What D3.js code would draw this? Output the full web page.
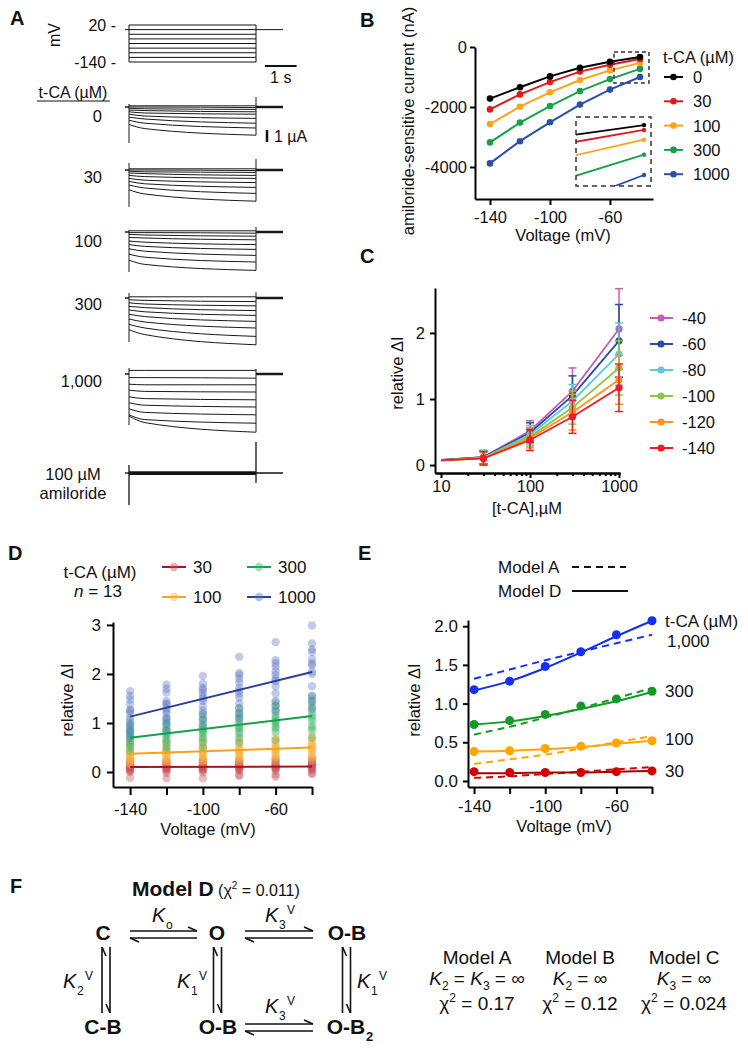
<!DOCTYPE html>
<html><head><meta charset="utf-8">
<script src="https://cdn.jsdelivr.net/npm/d3@7"></script>
<style>
body{margin:0;background:#fff;}
svg{font-family:"Liberation Sans",Arial,Helvetica,sans-serif;}
</style></head><body>
<svg id="fig" width="748" height="1050"></svg>
<script>
// ================= DATA =================
// Panel A: voltage protocol (mV) and current traces (µA, start / 0.5 s / end of 4 s step)
const stepVoltages = [20, 0, -20, -40, -60, -80, -100, -120, -140];
const holdingVoltage = 0;
const traceTimes = [0, 0.5, 4];
const aConcLabels = ["0", "30", "100", "300", "1,000"];
const tr0Start = [0.1, 0, -0.1, -0.25, -0.4, -0.6, -0.85, -1.1, -1.45];
const tr0Early = [0.1, 0, -0.15, -0.3, -0.5, -0.75, -1.0, -1.35, -1.8];
const tr0End = [0.1, -0.05, -0.2, -0.4, -0.6, -0.95, -1.35, -1.75, -2.35];
const tr30Start = [0.1, 0, -0.1, -0.25, -0.45, -0.7, -0.95, -1.25, -1.65];
const tr30Early = [0.1, 0, -0.15, -0.3, -0.55, -0.85, -1.15, -1.5, -2.0];
const tr30End = [0.1, -0.05, -0.2, -0.45, -0.7, -1.05, -1.45, -1.95, -2.6];
const tr100Start = [0.1, -0.05, -0.2, -0.45, -0.75, -1.05, -1.4, -1.85, -2.35];
const tr100Early = [0.1, -0.05, -0.25, -0.5, -0.85, -1.2, -1.6, -2.1, -2.7];
const tr100End = [0.1, -0.1, -0.35, -0.65, -1.05, -1.45, -1.95, -2.5, -3.2];
const tr300Start = [0.1, -0.15, -0.4, -0.7, -1.0, -1.35, -1.75, -2.2, -2.65];
const tr300Early = [0.1, -0.2, -0.5, -0.8, -1.15, -1.55, -2.0, -2.5, -3.05];
const tr300End = [0.1, -0.3, -0.65, -1.05, -1.45, -1.95, -2.5, -3.2, -3.9];
const tr1000Start = [0.3, -0.3, -0.85, -1.35, -1.9, -2.4, -2.9, -3.4, -3.5];
const tr1000Early = [0.3, -0.3, -0.9, -1.45, -2.05, -2.6, -3.2, -3.8, -4.05];
const tr1000End = [0.3, -0.35, -0.9, -1.5, -2.15, -2.75, -3.4, -4.1, -4.85];
const spikeOnset = [[0.25, -3.0], [0.58, -3.08], [0.17, -3.33], [0.42, -3.67], [0.5, -4.25]];
const spikeOffset = [[0.83, -2.35], [0.92, -2.6], [0.42, -3.2], [0.5, -3.9], [0.42, -4.85]];
const amilLevels = [0.06, 0.04, 0.02, 0, -0.02, -0.04, -0.06, -0.08, -0.1];
const amilSpikeOnset = [0.67, -2.67];
const amilSpikeOffset = [2.58, -0.83];

// Panel B: amiloride-sensitive current (nA)
const bVoltages = [-140, -120, -100, -80, -60, -40];
const bConcs = ["0", "30", "100", "300", "1000"];
const bCurr0 = [-1720, -1340, -980, -690, -490, -335];
const bCurr30 = [-2080, -1580, -1170, -820, -590, -400];
const bCurr100 = [-2570, -1990, -1510, -1100, -780, -530];
const bCurr300 = [-3180, -2520, -1970, -1470, -1070, -730];
const bCurr1000 = [-3880, -3140, -2510, -1920, -1420, -1000];
const bZoomV = [-57.3, -34];
const bZoomI = [-167, -1200];
const bInsetV = [-56.5, -38.3];
const bInsetI = [-227, -1147];

// Panel C: relative ΔI vs [t-CA]
const cConc = [10, 30, 100, 300, 1000];
const cSeries = ["-40", "-60", "-80", "-100", "-120", "-140"];
const cMean40 = [0.08, 0.12, 0.52, 1.12, 2.06];
const cSd40 = [0, 0.1, 0.15, 0.35, 0.61];
const cMean60 = [0.08, 0.12, 0.49, 1.05, 1.88];
const cSd60 = [0, 0.1, 0.15, 0.3, 0.55];
const cMean80 = [0.07, 0.11, 0.46, 0.97, 1.68];
const cSd80 = [0, 0.1, 0.14, 0.25, 0.47];
const cMean100 = [0.07, 0.11, 0.43, 0.87, 1.47];
const cSd100 = [0, 0.1, 0.14, 0.25, 0.41];
const cMean120 = [0.07, 0.1, 0.41, 0.8, 1.29];
const cSd120 = [0, 0.1, 0.15, 0.27, 0.37];
const cMean140 = [0.07, 0.1, 0.38, 0.73, 1.17];
const cSd140 = [0, 0.1, 0.16, 0.25, 0.36];

// Panel D: individual cells (n = 13) at each voltage
const dVolt = [-140, -120, -100, -80, -60, -40];
const dConcs = ["30", "100", "300", "1000"];
const d30 = [
  [0.25, 0.22, 0.18, 0.15, 0.13, 0.11, 0.1, 0.08, 0.06, 0.04, 0.02, 0.0, -0.12],
  [0.24, 0.21, 0.18, 0.16, 0.13, 0.12, 0.1, 0.08, 0.07, 0.05, 0.02, -0.02, -0.13],
  [0.25, 0.22, 0.19, 0.16, 0.14, 0.12, 0.1, 0.09, 0.07, 0.05, 0.03, -0.01, -0.13],
  [0.26, 0.22, 0.2, 0.17, 0.14, 0.12, 0.11, 0.09, 0.07, 0.05, 0.03, -0.05, -0.08],
  [0.27, 0.23, 0.2, 0.17, 0.15, 0.13, 0.11, 0.09, 0.08, 0.06, 0.03, -0.05, -0.1],
  [0.28, 0.24, 0.21, 0.18, 0.16, 0.14, 0.12, 0.1, 0.08, 0.06, 0.04, -0.02, -0.04]];
const d100 = [
  [0.6, 0.55, 0.5, 0.45, 0.42, 0.38, 0.36, 0.34, 0.32, 0.28, 0.25, 0.2, 0.15],
  [0.62, 0.57, 0.52, 0.47, 0.43, 0.4, 0.38, 0.36, 0.33, 0.3, 0.26, 0.22, 0.17],
  [0.65, 0.6, 0.55, 0.5, 0.46, 0.42, 0.4, 0.38, 0.35, 0.32, 0.28, 0.24, 0.18],
  [0.68, 0.63, 0.58, 0.52, 0.48, 0.45, 0.43, 0.4, 0.38, 0.35, 0.3, 0.26, 0.2],
  [0.72, 0.66, 0.61, 0.56, 0.52, 0.49, 0.46, 0.44, 0.41, 0.38, 0.34, 0.29, 0.22],
  [0.75, 0.7, 0.65, 0.6, 0.56, 0.52, 0.5, 0.47, 0.44, 0.4, 0.36, 0.3, 0.24]];
const d300 = [
  [1.05, 0.95, 0.9, 0.85, 0.82, 0.78, 0.72, 0.7, 0.65, 0.6, 0.55, 0.5, 0.42],
  [1.1, 1.0, 0.95, 0.9, 0.85, 0.82, 0.78, 0.75, 0.7, 0.65, 0.6, 0.52, 0.45],
  [1.18, 1.1, 1.05, 0.98, 0.92, 0.88, 0.85, 0.82, 0.78, 0.72, 0.68, 0.6, 0.5],
  [1.3, 1.22, 1.15, 1.1, 1.05, 1.0, 0.95, 0.9, 0.88, 0.82, 0.78, 0.7, 0.6],
  [1.42, 1.35, 1.28, 1.22, 1.15, 1.1, 1.05, 1.02, 0.98, 0.92, 0.88, 0.82, 0.65],
  [1.55, 1.48, 1.42, 1.35, 1.28, 1.22, 1.15, 1.1, 1.05, 0.95, 0.9, 0.85, 0.7]];
const d1000 = [
  [1.65, 1.55, 1.48, 1.38, 1.27, 1.25, 1.2, 1.1, 1.0, 0.95, 0.85, 0.78, 0.7],
  [1.78, 1.7, 1.62, 1.45, 1.4, 1.38, 1.3, 1.25, 1.2, 1.1, 1.05, 0.98, 0.85],
  [1.96, 1.8, 1.72, 1.68, 1.62, 1.55, 1.5, 1.45, 1.34, 1.25, 1.18, 1.07, 0.95],
  [2.35, 2.02, 1.98, 1.9, 1.82, 1.72, 1.65, 1.6, 1.52, 1.4, 1.3, 1.2, 1.1],
  [2.65, 2.28, 2.22, 2.15, 2.05, 1.98, 1.9, 1.85, 1.75, 1.6, 1.45, 1.35, 1.25],
  [2.99, 2.62, 2.5, 2.45, 2.3, 2.22, 2.18, 2.05, 2.0, 1.75, 1.55, 1.45, 1.3]];
const dFitV = [-140, -40];
const dFit30 = [0.1, 0.11];
const dFit100 = [0.37, 0.5];
const dFit300 = [0.7, 1.14];
const dFit1000 = [1.13, 2.04];

// Panel E: mean relative ΔI and model fits
const eVolt = [-140, -120, -100, -80, -60, -40];
const eConcLabels = ["30", "100", "300", "1,000"];
const eMean30 = [0.12, 0.11, 0.11, 0.11, 0.12, 0.13];
const eMean100 = [0.38, 0.39, 0.42, 0.45, 0.49, 0.52];
const eMean300 = [0.73, 0.78, 0.86, 0.97, 1.06, 1.16];
const eMean1000 = [1.18, 1.29, 1.48, 1.67, 1.89, 2.07];
const eModelA30 = [0.04, 0.06, 0.09, 0.12, 0.15, 0.18];
const eModelA100 = [0.22, 0.28, 0.34, 0.42, 0.5, 0.58];
const eModelA300 = [0.6, 0.7, 0.82, 0.94, 1.07, 1.2];
const eModelA1000 = [1.32, 1.44, 1.56, 1.67, 1.78, 1.89];
const eModelD30 = [0.1, 0.1, 0.11, 0.11, 0.12, 0.13];
const eModelD100 = [0.38, 0.39, 0.41, 0.44, 0.48, 0.52];
const eModelD300 = [0.73, 0.77, 0.84, 0.93, 1.03, 1.15];
const eModelD1000 = [1.17, 1.29, 1.46, 1.66, 1.87, 2.07];

// Panel F: model fits
const fModels = ["Model A", "Model B", "Model C"];
const fConstraints = [[["K", "2"], ["K", "3"]], [["K", "2"]], [["K", "3"]]];
const fChi2 = ["0.17", "0.12", "0.024"];
const fChi2D = "0.011";

// ================= DRAWING =================
const svg = d3.select("#fig");
svg.append("rect").attr("width", 748).attr("height", 1050).attr("fill", "#fff");
const FS = 16.5;
const INK = "#111";

function txt(x, y, s, o = {}) {
  const t = svg.append("text").attr("x", x).attr("y", y).text(s)
    .attr("font-size", o.size || FS).attr("text-anchor", o.anchor || "start")
    .attr("font-weight", o.weight || "normal").attr("fill", o.fill || INK);
  if (o.italic) t.attr("font-style", "italic");
  if (o.rotate) t.attr("transform", `rotate(${o.rotate},${x},${y})`);
  return t;
}
function styleAxis(g, size) {
  g.attr("font-family", null).attr("font-size", null);
  g.select(".domain").attr("stroke", "#000").attr("stroke-width", 2);
  g.selectAll(".tick line").attr("stroke", "#000").attr("stroke-width", 2);
  g.selectAll(".tick text").attr("font-size", size || FS).attr("fill", INK);
}
const fmt = d => String(d);

// ---------- Panel A ----------
txt(10, 25, "A", {size: 20, weight: "bold"});
const xT = d3.scaleLinear().domain([0, 4]).range([129, 256]);
const yV = d3.scaleLinear().domain([20, -140]).range([25, 62]);
const gA = svg.append("g").attr("fill", "none").attr("stroke", "#111").attr("stroke-width", 1);
stepVoltages.forEach(v => gA.append("line").attr("x1", xT(0)).attr("x2", xT(4)).attr("y1", yV(v)).attr("y2", yV(v)));
gA.append("line").attr("x1", xT(-0.13)).attr("x2", xT(0)).attr("y1", yV(holdingVoltage)).attr("y2", yV(holdingVoltage));
gA.append("line").attr("x1", xT(4)).attr("x2", xT(4.85)).attr("y1", yV(holdingVoltage)).attr("y2", yV(holdingVoltage));
[0, 4].forEach(t => gA.append("line").attr("x1", xT(t)).attr("x2", xT(t)).attr("y1", yV(d3.max(stepVoltages))).attr("y2", yV(d3.min(stepVoltages))));
txt(60, 35, "mV", {anchor: "middle", rotate: -90, size: 16});
txt(116, yV(20) + 6, "20 -", {anchor: "end", size: 16});
txt(116, yV(-140) + 6, "-140 -", {anchor: "end", size: 16});
// 1 s scale bar
gA.append("line").attr("x1", xT(4.28)).attr("x2", xT(5.28)).attr("y1", 66).attr("y2", 66).attr("stroke-width", 2);
txt((xT(4.28) + xT(5.28)) / 2, 83, "1 s", {anchor: "middle", size: 16});
txt(73, 98, "t-CA (µM)", {anchor: "middle", size: 16});
svg.append("line").attr("x1", 37).attr("x2", 110).attr("y1", 101).attr("y2", 101).attr("stroke", "#111").attr("stroke-width", 1);

const aBaseY = [107, 170, 232, 298, 374];
const aStarts = [tr0Start, tr30Start, tr100Start, tr300Start, tr1000Start];
const aEarly = [tr0Early, tr30Early, tr100Early, tr300Early, tr1000Early];
const aEnds = [tr0End, tr30End, tr100End, tr300End, tr1000End];
const aLabelY = [122, 183, 247, 310, 387];
aBaseY.forEach((b, k) => {
  const yI = d3.scaleLinear().domain([0, -1]).range([b, b + 12]);
  const line = d3.line().x(d => xT(d[0])).y(d => yI(d[1])).curve(d3.curveMonotoneX);
  const g = svg.append("g").attr("fill", "none").attr("stroke", "#1a1a1a").attr("stroke-width", 1);
  stepVoltages.forEach((v, i) => {
    const pts = traceTimes.map((t, j) => [t, [aStarts[k][i], aEarly[k][i], aEnds[k][i]][j]]);
    g.append("path").attr("d", line(pts));
  });
  g.append("line").attr("x1", xT(0)).attr("x2", xT(0)).attr("y1", yI(spikeOnset[k][0])).attr("y2", yI(spikeOnset[k][1]));
  g.append("line").attr("x1", xT(4)).attr("x2", xT(4)).attr("y1", yI(spikeOffset[k][0])).attr("y2", yI(spikeOffset[k][1]));
  g.append("line").attr("x1", xT(-0.13)).attr("x2", xT(0)).attr("y1", yI(0)).attr("y2", yI(0)).attr("stroke-width", 1.5);
  g.append("line").attr("x1", xT(4)).attr("x2", xT(4.85)).attr("y1", yI(0)).attr("y2", yI(0)).attr("stroke-width", 2.5);
  txt(102, aLabelY[k], aConcLabels[k], {anchor: "end", size: 16.5});
  if (k === 0) {
    svg.append("line").attr("x1", 267).attr("x2", 267).attr("y1", yI(-1.92)).attr("y2", yI(-2.92)).attr("stroke", "#111").attr("stroke-width", 2.5);
    txt(274, yI(-2.92), "1 µA", {size: 16});
  }
});
{
  const b = 473;
  const yI = d3.scaleLinear().domain([0, -1]).range([b, b + 12]);
  const g = svg.append("g").attr("fill", "none").attr("stroke", "#111").attr("stroke-width", 1.3);
  amilLevels.forEach(v => g.append("line").attr("x1", xT(0)).attr("x2", xT(4)).attr("y1", yI(v)).attr("y2", yI(v)));
  g.append("line").attr("x1", xT(0)).attr("x2", xT(4)).attr("y1", yI(0)).attr("y2", yI(0)).attr("stroke-width", 3);
  g.append("line").attr("x1", xT(0)).attr("x2", xT(0)).attr("y1", yI(amilSpikeOnset[0])).attr("y2", yI(amilSpikeOnset[1]));
  g.append("line").attr("x1", xT(4)).attr("x2", xT(4)).attr("y1", yI(amilSpikeOffset[0])).attr("y2", yI(amilSpikeOffset[1]));
  g.append("line").attr("x1", xT(-0.13)).attr("x2", xT(0)).attr("y1", yI(0)).attr("y2", yI(0));
  g.append("line").attr("x1", xT(4)).attr("x2", xT(4.85)).attr("y1", yI(0)).attr("y2", yI(0)).attr("stroke-width", 1.5);
  txt(73, 480, "100 µM", {anchor: "middle"});
  txt(73, 499, "amiloride", {anchor: "middle"});
}

// ---------- Panel B ----------
txt(360, 27, "B", {size: 20, weight: "bold"});
const xB = d3.scaleLinear().domain([-150, -31.3]).range([475, 653]);
const yB = d3.scaleLinear().domain([0, -5067]).range([47, 199]);
const bColors = ["#000000", "#e0191f", "#f9a51a", "#17a04a", "#2c4ea6"];
const bData = [bCurr0, bCurr30, bCurr100, bCurr300, bCurr1000];
styleAxis(svg.append("g").attr("transform", "translate(475,0)")
  .call(d3.axisLeft(yB).tickValues([0, -2000, -4000]).tickFormat(fmt).tickSize(5).tickPadding(3).tickSizeOuter(0)));
styleAxis(svg.append("g").attr("transform", "translate(0,199)")
  .call(d3.axisBottom(xB).tickValues([-140, -100, -60]).tickFormat(fmt).tickSize(6).tickPadding(6).tickSizeOuter(0)));
txt(414, 121, "amiloride-sensitive current (nA)", {anchor: "middle", rotate: -90});
txt(563, 241, "Voltage (mV)", {anchor: "middle"});
const lineB = d3.line().x((d, i) => xB(bVoltages[i])).y(d => yB(d));
bData.slice().reverse().forEach((arr, ri) => {
  const k = bData.length - 1 - ri;
  svg.append("path").attr("d", lineB(arr)).attr("fill", "none").attr("stroke", bColors[k]).attr("stroke-width", 2);
  svg.append("g").selectAll("circle").data(arr).join("circle")
    .attr("cx", (d, i) => xB(bVoltages[i])).attr("cy", d => yB(d)).attr("r", 3.3).attr("fill", bColors[k]);
});
// dashed zoom box
svg.append("rect").attr("x", xB(bZoomV[0])).attr("y", yB(bZoomI[0]))
  .attr("width", xB(bZoomV[1]) - xB(bZoomV[0])).attr("height", yB(bZoomI[1]) - yB(bZoomI[0]))
  .attr("fill", "none").attr("stroke", "#333").attr("stroke-width", 1.5).attr("stroke-dasharray", "4,3");
// inset
const inX0 = 576, inX1 = 651, inY0 = 117, inY1 = 186;
const xIn = d3.scaleLinear().domain(bInsetV).range([inX0, inX1]);
const yIn = d3.scaleLinear().domain(bInsetI).range([inY0, inY1]);
svg.append("defs").append("clipPath").attr("id", "insetClip").append("rect")
  .attr("x", inX0).attr("y", inY0).attr("width", inX1 - inX0).attr("height", inY1 - inY0);
const gIn = svg.append("g").attr("clip-path", "url(#insetClip)");
const lineIn = d3.line().x((d, i) => xIn(bVoltages[i])).y(d => yIn(d));
bData.forEach((arr, k) => {
  gIn.append("path").attr("d", lineIn(arr)).attr("fill", "none").attr("stroke", bColors[k]).attr("stroke-width", 1.8);
  gIn.append("circle").attr("cx", xIn(bVoltages[5])).attr("cy", yIn(arr[5])).attr("r", 2.2).attr("fill", bColors[k]);
});
svg.append("rect").attr("x", inX0).attr("y", inY0).attr("width", inX1 - inX0).attr("height", inY1 - inY0)
  .attr("fill", "none").attr("stroke", "#333").attr("stroke-width", 1.5).attr("stroke-dasharray", "5,4");
// legend
txt(663, 63, "t-CA (µM)");
bConcs.forEach((c, k) => {
  const y = 77 + k * 24.3;
  svg.append("line").attr("x1", 664).attr("x2", 683).attr("y1", y).attr("y2", y).attr("stroke", bColors[k]).attr("stroke-width", 2);
  svg.append("circle").attr("cx", 673.5).attr("cy", y).attr("r", 3.3).attr("fill", bColors[k]);
  txt(693, y + 6, c);
});

// ---------- Panel C ----------
txt(360, 263, "C", {size: 20, weight: "bold"});
const xC = d3.scaleLog().domain([8.56, 1026]).range([435, 620]);
const yC = d3.scaleLinear().domain([-0.12, 2.68]).range([473, 288]);
const minorC = [20, 30, 40, 50, 60, 70, 80, 90, 200, 300, 400, 500, 600, 700, 800, 900];
styleAxis(svg.append("g").attr("transform", "translate(0,473)")
  .call(d3.axisBottom(xC).tickValues(minorC).tickFormat("").tickSize(3).tickSizeOuter(0)));
styleAxis(svg.append("g").attr("transform", "translate(0,473)")
  .call(d3.axisBottom(xC).tickValues([10, 100, 1000]).tickFormat(fmt).tickSize(5).tickPadding(2).tickSizeOuter(0)));
styleAxis(svg.append("g").attr("transform", "translate(435,0)")
  .call(d3.axisLeft(yC).tickValues([0, 1, 2]).tickFormat(fmt).tickSize(5).tickPadding(5).tickSizeOuter(0)));
txt(403, 373, "relative ΔI", {anchor: "middle", rotate: -90});
txt(527, 514, "[t-CA],µM", {anchor: "middle"});
const cColors = ["#c45fb2", "#2b4aa3", "#5fc8df", "#8dc63f", "#f7941d", "#ee1c25"];
const cMeans = [cMean40, cMean60, cMean80, cMean100, cMean120, cMean140];
const cSds = [cSd40, cSd60, cSd80, cSd100, cSd120, cSd140];
const lineC = d3.line().x((d, i) => xC(cConc[i])).y(d => yC(d));
cMeans.forEach((m, k) => {
  const g = svg.append("g").attr("stroke", cColors[k]).attr("fill", cColors[k]);
  m.forEach((v, i) => {
    if (i === 0) return;
    const x = xC(cConc[i]), sd = cSds[k][i];
    g.append("line").attr("x1", x).attr("x2", x).attr("y1", yC(v - sd)).attr("y2", yC(v + sd)).attr("stroke-width", 1.5);
    [v - sd, v + sd].forEach(e => g.append("line").attr("x1", x - 4).attr("x2", x + 4).attr("y1", yC(e)).attr("y2", yC(e)).attr("stroke-width", 1.5));
  });
  g.append("path").attr("d", lineC(m)).attr("fill", "none").attr("stroke-width", 1.8);
  m.forEach((v, i) => { if (i > 0) g.append("circle").attr("cx", xC(cConc[i])).attr("cy", yC(v)).attr("r", 3.6).attr("stroke", "none"); });
});
cSeries.forEach((s, k) => {
  const y = 318 + k * 26;
  svg.append("line").attr("x1", 650).attr("x2", 673).attr("y1", y).attr("y2", y).attr("stroke", cColors[k]).attr("stroke-width", 2);
  svg.append("circle").attr("cx", 661).attr("cy", y).attr("r", 3.6).attr("fill", cColors[k]);
  txt(682, y + 6, s);
});

// ---------- Panel D ----------
txt(8, 560, "D", {size: 20, weight: "bold"});
const xD = d3.scaleLinear().domain([-149.4, -40]).range([113, 312]);
const yD = d3.scaleLinear().domain([-0.306, 3.06]).range([787, 622]);
const dLineColors = ["#a3171c", "#f7a21b", "#15a049", "#2b3e98"];
const dDotColors = ["#c8505a", "#f9b23c", "#3cb56d", "#5b76c4"];
const dData = [d30, d100, d300, d1000];
const dFits = [dFit30, dFit100, dFit300, dFit1000];
styleAxis(svg.append("g").attr("transform", "translate(113,0)")
  .call(d3.axisLeft(yD).tickValues([0, 1, 2, 3]).tickFormat(fmt).tickSize(6).tickPadding(6).tickSizeOuter(0)), 17);
styleAxis(svg.append("g").attr("transform", "translate(0,787)")
  .call(d3.axisBottom(xD).tickValues(dVolt).tickFormat(d => [-140, -100, -60].includes(d) ? String(d) : "").tickSize(8).tickPadding(8).tickSizeOuter(0)));
txt(73, 700, "relative ΔI", {anchor: "middle", rotate: -90});
txt(208, 835, "Voltage (mV)", {anchor: "middle"});
dData.forEach((conc, k) => {
  const g = svg.append("g").attr("fill", dDotColors[k]).attr("fill-opacity", 0.38);
  conc.forEach((vals, vi) => vals.forEach(v =>
    g.append("circle").attr("cx", xD(dVolt[vi])).attr("cy", yD(v)).attr("r", 4.2)));
});
dFits.forEach((f, k) => {
  svg.append("line").attr("x1", xD(dFitV[0])).attr("x2", xD(dFitV[1])).attr("y1", yD(f[0])).attr("y2", yD(f[1]))
    .attr("stroke", dLineColors[k]).attr("stroke-width", 2);
});
txt(100, 578, "t-CA (µM)", {anchor: "middle", size: 17});
{
  const t = svg.append("text").attr("x", 98).attr("y", 597).attr("text-anchor", "middle").attr("font-size", 17).attr("fill", INK);
  t.append("tspan").attr("font-style", "italic").text("n");
  t.append("tspan").text(" = 13");
}
const dLegPos = [[162, 567], [162, 597], [247, 567], [247, 597]];
dConcs.forEach((c, k) => {
  const [x, y] = dLegPos[k];
  svg.append("line").attr("x1", x).attr("x2", x + 24).attr("y1", y).attr("y2", y).attr("stroke", dLineColors[k]).attr("stroke-width", 2);
  svg.append("circle").attr("cx", x + 12).attr("cy", y).attr("r", 4.2).attr("fill", dDotColors[k]).attr("fill-opacity", 0.45);
  txt(x + 31, y + 6, c, {size: 17});
});

// ---------- Panel E ----------
txt(358, 560, "E", {size: 20, weight: "bold"});
const xE = d3.scaleLinear().domain([-143.4, -40]).range([468, 652]);
const yE = d3.scaleLinear().domain([-0.078, 2.08]).range([787, 620]);
styleAxis(svg.append("g").attr("transform", "translate(468,0)")
  .call(d3.axisLeft(yE).tickValues([0, 0.5, 1, 1.5, 2]).tickFormat(d3.format(".1f")).tickSize(5).tickPadding(5).tickSizeOuter(0)), 17);
styleAxis(svg.append("g").attr("transform", "translate(0,787)")
  .call(d3.axisBottom(xE).tickValues(eVolt).tickFormat(d => [-140, -100, -60].includes(d) ? String(d) : "").tickSize(7).tickPadding(6).tickSizeOuter(0)));
txt(420, 700, "relative ΔI", {anchor: "middle", rotate: -90});
txt(564, 832, "Voltage (mV)", {anchor: "middle"});
const eColors = ["#d40000", "#ffa500", "#149a26", "#1330f2"];
const eDLineColors = ["#a80000", "#ffa500", "#149a26", "#1330f2"];
const eMeans = [eMean30, eMean100, eMean300, eMean1000];
const eA = [eModelA30, eModelA100, eModelA300, eModelA1000];
const eD = [eModelD30, eModelD100, eModelD300, eModelD1000];
const lineE = d3.line().x((d, i) => xE(eVolt[i])).y(d => yE(d)).curve(d3.curveMonotoneX);
eMeans.forEach((m, k) => {
  svg.append("path").attr("d", lineE(eA[k])).attr("fill", "none").attr("stroke", eColors[k]).attr("stroke-width", 2).attr("stroke-dasharray", "7,5");
  svg.append("path").attr("d", lineE(eD[k])).attr("fill", "none").attr("stroke", eDLineColors[k]).attr("stroke-width", 2);
  svg.append("g").selectAll("circle").data(m).join("circle")
    .attr("cx", (d, i) => xE(eVolt[i])).attr("cy", d => yE(d)).attr("r", 4.5).attr("fill", eColors[k]);
});
txt(498, 573, "Model A", {size: 17});
svg.append("line").attr("x1", 572).attr("x2", 626).attr("y1", 567).attr("y2", 567).attr("stroke", "#111").attr("stroke-width", 2).attr("stroke-dasharray", "7,5");
txt(498, 597, "Model D", {size: 17});
svg.append("line").attr("x1", 572).attr("x2", 628).attr("y1", 591).attr("y2", 591).attr("stroke", "#111").attr("stroke-width", 2);
txt(665, 627, "t-CA (µM)", {size: 17});
const eLabPos = [[665, 777], [665, 745], [665, 697], [667, 647]];
eConcLabels.forEach((c, k) => txt(eLabPos[k][0], eLabPos[k][1], c, {size: 17}));

// ---------- Panel F ----------
txt(10, 893, "F", {size: 20, weight: "bold"});
{
  const t = svg.append("text").attr("x", 132).attr("y", 896).attr("fill", INK);
  t.append("tspan").attr("font-size", 21).attr("font-weight", "bold").text("Model D");
  t.append("tspan").attr("font-size", 16).text(" (χ");
  t.append("tspan").attr("font-size", 10).attr("dy", -7).text("2");
  t.append("tspan").attr("font-size", 16).attr("dy", 7).text(" = " + fChi2D + ")");
}
const states = [["C", 103, 940], ["O", 217, 940], ["O-B", 347, 940], ["C-B", 103, 1034], ["O-B", 218, 1034], ["O-B", 346, 1034]];
states.forEach(s => txt(s[1], s[2], s[0], {size: 21, weight: "bold", anchor: "middle"}));
txt(366, 1041, "2", {size: 13, weight: "bold"});
const gF = svg.append("g").attr("stroke", "#111").attr("stroke-width", 1.6).attr("fill", "none");
function harpoon(x1, y1, x2, y2, side) {
  gF.append("line").attr("x1", x1).attr("y1", y1).attr("x2", x2).attr("y2", y2);
  const dx = x2 - x1, dy = y2 - y1, L = Math.hypot(dx, dy);
  const ux = dx / L, uy = dy / L;
  const px = -uy * side, py = ux * side;
  gF.append("line").attr("x1", x2).attr("y1", y2).attr("x2", x2 - ux * 9 + px * 4).attr("y2", y2 - uy * 9 + py * 4);
}
function eqH(xa, xb, y) { harpoon(xa, y - 3.5, xb, y - 3.5, -1); harpoon(xb, y + 3.5, xa, y + 3.5, -1); }
function eqV(x, ya, yb) { harpoon(x - 4, yb, x - 4, ya, 1); harpoon(x + 4, ya, x + 4, yb, 1); }
eqH(130, 197, 934.5);
eqH(245, 313, 934.5);
eqH(245, 313, 1027.5);
eqV(106, 947, 1013);
eqV(217.5, 947, 1013);
eqV(346.5, 947, 1013);
function kLabel(x, y, sub, sup) {
  txt(x, y, "K", {size: 20, italic: true});
  txt(x + 14, y + 7, sub, {size: 12});
  if (sup) txt(x + 22, y - 8, sup, {size: 12});
}
kLabel(152, 922, "o", null);
kLabel(265, 922, "3", "V");
kLabel(63, 988, "2", "V");
kLabel(177, 988, "1", "V");
kLabel(357, 988, "1", "V");
kLabel(265, 1013, "3", "V");
// Model A/B/C
const fX = [477, 580, 684];
fModels.forEach((m, k) => {
  txt(fX[k], 964, m, {size: 19, anchor: "middle"});
  const t2 = svg.append("text").attr("x", fX[k]).attr("y", 985).attr("text-anchor", "middle").attr("font-size", 19).attr("fill", INK);
  fConstraints[k].forEach(c => {
    t2.append("tspan").attr("font-style", "italic").text(c[0]);
    t2.append("tspan").attr("font-size", 12).attr("dy", 5).text(c[1]);
    t2.append("tspan").attr("dy", -5).text(" = ");
  });
  t2.append("tspan").text("∞");
  const t3 = svg.append("text").attr("x", fX[k]).attr("y", 1010).attr("text-anchor", "middle").attr("font-size", 19).attr("fill", INK);
  t3.append("tspan").text("χ");
  t3.append("tspan").attr("font-size", 12).attr("dy", -8).text("2");
  t3.append("tspan").attr("dy", 8).text(" = " + fChi2[k]);
});
</script>
</body></html>
